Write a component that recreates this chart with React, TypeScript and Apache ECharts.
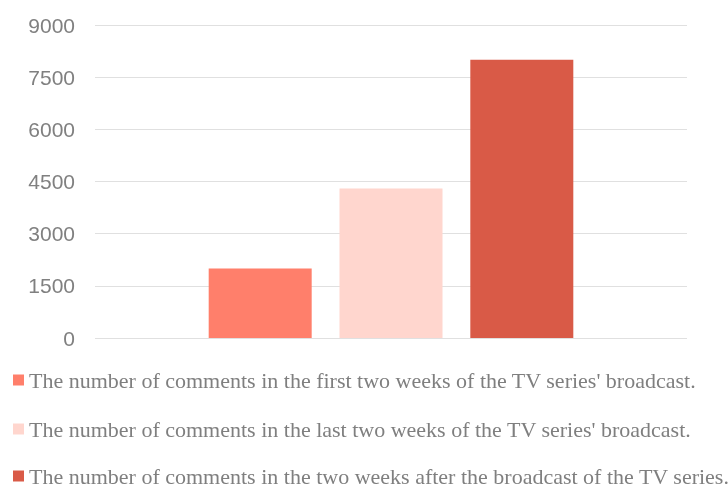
import React, { useEffect, useRef } from "react";
import * as echarts from "echarts";

const categories = [""];
const seriesNames = [
  "The number of comments in the first two weeks of the TV series' broadcast.",
  "The number of comments in the last two weeks of the TV series' broadcast.",
  "The number of comments in the two weeks after the broadcast of the TV series.",
];
const seriesValues = [[2000], [4300], [8000]];
const seriesColors = ["#FF7F6B", "#FFD6CE", "#D95A47"];
const yTicks = { min: 0, max: 9000, interval: 1500 };
const legendTops = [369, 418, 465];

export default function App() {
  const ref = useRef<HTMLDivElement>(null);
  useEffect(() => {
    if (!ref.current) return;
    const chart = echarts.init(ref.current, undefined, { renderer: "svg" });
    chart.setOption({
      animation: false,
      grid: { left: 95, right: 41, top: 25, bottom: 149, containLabel: false },
      legend: seriesNames.map((name, i) => ({
        orient: "vertical",
        left: 13,
        top: legendTops[i],
        padding: 0,
        itemWidth: 11,
        itemHeight: 11,
        icon: "rect",
        data: [name],
        textStyle: {
          fontFamily: "Liberation Serif",
          fontSize: 22,
          lineHeight: 21,
          color: "#7f7f7f",
        },
      })),
      xAxis: {
        type: "category",
        data: categories,
        axisLine: { show: false },
        axisTick: { show: false },
        axisLabel: { show: false },
      },
      yAxis: {
        type: "value",
        min: yTicks.min,
        max: yTicks.max,
        interval: yTicks.interval,
        axisLine: { show: false },
        axisTick: { show: false },
        axisLabel: {
          color: "#808080",
          fontSize: 21,
          fontFamily: "Liberation Sans",
          margin: 20,
          formatter: (v: number) => String(v),
        },
        splitLine: { lineStyle: { color: "#e0e0e0", width: 1 } },
      },
      series: seriesNames.map((name, i) => ({
        name,
        type: "bar",
        data: seriesValues[i],
        barWidth: 103,
        barGap: "27%",
        itemStyle: { color: seriesColors[i] },
      })),
    });
    return () => chart.dispose();
  }, []);
  return (
    <div
      ref={ref}
      style={{ position: "fixed", left: 0, top: 0, width: 728, height: 487 }}
    />
  );
}
